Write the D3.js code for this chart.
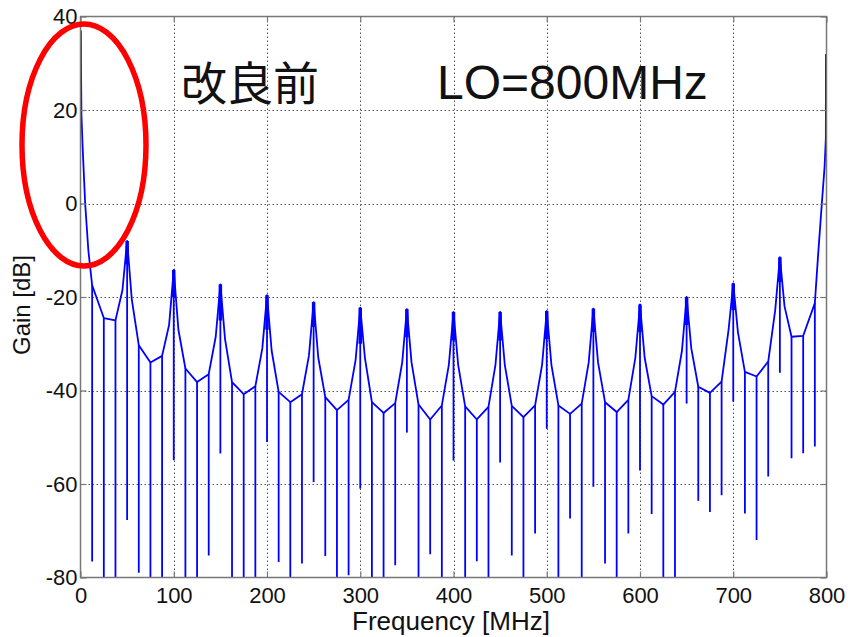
<!DOCTYPE html>
<html>
<head>
<meta charset="utf-8">
<script src="https://cdn.jsdelivr.net/npm/d3@7"></script>
<style>
  body { margin: 0; background: #fff; }
  svg text { font-family: "Liberation Sans", Arial, sans-serif; fill: #111; }
</style>
</head>
<body>
<svg id="chart" width="848" height="637"></svg>
<script>
// envelope of the gain curve (MHz, dB)
var envFreq = [0.4, 0.6, 1, 2.3, 5, 8.4, 12.5, 25, 37.5, 45, 50, 55, 62.5, 75, 87.5, 95, 100, 105,
  112.5, 125, 137.5, 145, 150, 155, 162.5, 175, 187.5, 195, 200, 205, 212.5, 225, 237.5, 245, 250, 255,
  262.5, 275, 287.5, 295, 300, 305, 312.5, 325, 337.5, 345, 350, 355, 362.5, 375, 387.5, 395, 400, 405,
  412.5, 425, 437.5, 445, 450, 455, 462.5, 475, 487.5, 495, 500, 505, 512.5, 525, 537.5, 545, 550, 555,
  562.5, 575, 587.5, 595, 600, 605, 612.5, 625, 637.5, 645, 650, 655, 662.5, 675, 687.5, 695, 700, 705,
  712.5, 725, 737.5, 745, 750, 755, 762.5, 775, 787.5, 791, 795, 798, 799.3, 799.4]
var envGain = [37, 28, 19, 12, 0, -10, -17.5, -24.5, -25, -18.5, -8, -20.5, -30.3, -34, -32.6, -26, -14.2, -27,
  -35.3, -38.2, -36.5, -28.5, -17.3, -29, -38.2, -40.8, -39.1, -31, -19.6, -31.5, -40.3, -42.5, -40.8, -32.5, -21.1, -33,
  -41.4, -44.2, -42, -33.5, -22.3, -33, -42.5, -44.8, -42.7, -34, -22.6, -34, -43, -46.2, -43.2, -34.5, -23.2, -34.5,
  -43.4, -46.2, -43.5, -34.5, -23.2, -34.5, -43.3, -45.7, -43.2, -34.5, -23, -34.5, -43.2, -45, -42.8, -34, -22.5, -34,
  -42.5, -44.6, -42, -33, -21.6, -33, -41.2, -43, -40.3, -31.5, -20, -31, -39.2, -40.5, -38.1, -27, -17.1, -27.5,
  -36, -37, -33.8, -22.8, -11.5, -22, -28.5, -28.3, -21.3, -11, 0, 8, 14, 32]

// deep notches every 12.5 MHz (MHz, lowest dB)
var spikeFreq = [12.5, 25, 37.5, 50, 62.5, 75, 87.5, 100, 112.5, 125, 137.5, 150, 162.5, 175, 187.5, 200,
  212.5, 225, 237.5, 250, 262.5, 275, 287.5, 300, 312.5, 325, 337.5, 350, 362.5, 375, 387.5, 400,
  412.5, 425, 437.5, 450, 462.5, 475, 487.5, 500, 512.5, 525, 537.5, 550, 562.5, 575, 587.5, 600,
  612.5, 625, 637.5, 650, 662.5, 675, 687.5, 700, 712.5, 725, 737.5, 750, 762.5, 775, 787.5]
var spikeLow = [-76.6, -80, -80, -67.7, -79, -80, -80, -54.9, -80, -80, -75.3, -53.5, -80, -80, -79.9, -51,
  -76.7, -80, -77, -59.6, -75.4, -80, -79.5, -61, -80, -80, -77.4, -49, -80, -75, -80, -55,
  -80, -76.5, -80, -55.4, -75.3, -80, -70.6, -48.2, -80, -67.4, -80, -60.6, -77, -80, -70.6, -57.1,
  -66.4, -80, -80, -42.8, -63.6, -66, -62.4, -42.4, -66.3, -72, -58.4, -36.2, -54.5, -53.4, -52]

// dense part right under each harmonic peak
var peakFreq = [50, 100, 150, 200, 250, 300, 350, 400, 450, 500, 550, 600, 650, 700, 750]
var peakBand = [-13, -20, -25, -27, -26.4, -30, -28.6, -29.3, -29.3, -29, -27.5, -27.5, -26, -22.8, -16.8]

var xTicks = [0, 100, 200, 300, 400, 500, 600, 700, 800]
var yTicks = [-80, -60, -40, -20, 0, 20, 40]

var svg = d3.select("#chart")
var box = {left: 80.5, right: 826.5, top: 16.5, bottom: 577.5}

var x = d3.scaleLinear().domain([0, 800]).range([box.left, box.right])
var y = d3.scaleLinear().domain([-80, 40]).range([box.bottom, box.top])

// grid
var grid = svg.append("g").attr("stroke", "#555").attr("stroke-width", 1).attr("stroke-dasharray", "1.5,2.5")
grid.selectAll(".gx").data(xTicks.slice(1, -1)).enter().append("line")
  .attr("x1", d => Math.round(x(d)) + 0.5).attr("x2", d => Math.round(x(d)) + 0.5)
  .attr("y1", box.top).attr("y2", box.bottom)
grid.selectAll(".gy").data(yTicks.slice(1, -1)).enter().append("line")
  .attr("y1", d => Math.round(y(d)) + 0.5).attr("y2", d => Math.round(y(d)) + 0.5)
  .attr("x1", box.left).attr("x2", box.right)

svg.append("clipPath").attr("id", "clip").append("rect")
  .attr("x", box.left).attr("y", box.top).attr("width", box.right - box.left).attr("height", box.bottom - box.top)

var plot = svg.append("g").attr("clip-path", "url(#clip)")
var blue = "#0000ff", lw = 1.8

var env = d3.zip(envFreq, envGain)
plot.append("path").datum(env)
  .attr("fill", "none").attr("stroke", blue).attr("stroke-width", lw)
  .attr("stroke-linejoin", "round")
  .attr("d", d3.line().x(d => x(d[0])).y(d => y(d[1])))

function envAt(f) {
  var i = envFreq.indexOf(f)
  return envGain[i]
}

plot.selectAll(".spike").data(d3.zip(spikeFreq, spikeLow)).enter().append("line")
  .attr("x1", d => x(d[0])).attr("x2", d => x(d[0]))
  .attr("y1", d => y(envAt(d[0]))).attr("y2", d => y(d[1]))
  .attr("stroke", blue).attr("stroke-width", lw)

plot.selectAll(".band").data(d3.zip(peakFreq, peakBand)).enter().append("line")
  .attr("x1", d => x(d[0])).attr("x2", d => x(d[0]))
  .attr("y1", d => y(envAt(d[0]))).attr("y2", d => y(d[1]))
  .attr("stroke", blue).attr("stroke-width", 3.5)

// axes box with inward ticks
var axisColor = "#777"
svg.append("rect").attr("x", box.left).attr("y", box.top)
  .attr("width", box.right - box.left).attr("height", box.bottom - box.top)
  .attr("fill", "none").attr("stroke", axisColor).attr("stroke-width", 1.5)

var fmt = d => String(d)
var axB = svg.append("g").attr("transform", "translate(0," + box.bottom + ")")
  .call(d3.axisBottom(x).tickValues(xTicks).tickSize(-6).tickFormat(fmt))
var axT = svg.append("g").attr("transform", "translate(0," + box.top + ")")
  .call(d3.axisTop(x).tickValues(xTicks).tickSize(-6).tickFormat(""))
var axL = svg.append("g").attr("transform", "translate(" + box.left + ",0)")
  .call(d3.axisLeft(y).tickValues(yTicks).tickSize(-6).tickPadding(3).tickFormat(fmt))
var axR = svg.append("g").attr("transform", "translate(" + box.right + ",0)")
  .call(d3.axisRight(y).tickValues(yTicks).tickSize(-6).tickFormat(""))

;[axB, axT, axL, axR].forEach(function (a) {
  a.select(".domain").remove()
  a.selectAll(".tick line").attr("stroke", axisColor).attr("stroke-width", 1.2)
  a.selectAll(".tick text").attr("fill", "#111")
    .style("font-size", "22px").style("font-family", "'Liberation Sans', Arial, sans-serif")
})
axB.selectAll(".tick text").attr("y", 25).attr("dy", 0)

svg.append("text").attr("x", 451).attr("y", 630).attr("text-anchor", "middle")
  .style("font-size", "26px").text("Frequency [MHz]")

svg.append("text").attr("transform", "translate(30,305) rotate(-90)").attr("text-anchor", "middle")
  .style("font-size", "24px").text("Gain [dB]")

svg.append("text").attr("x", 181).attr("y", 100)
  .style("font-size", "46px").style("font-family", "'Noto Sans CJK JP', 'Noto Sans CJK SC', sans-serif")
  .text("改良前")

svg.append("text").attr("x", 437).attr("y", 99)
  .style("font-size", "48px").text("LO=800MHz")

svg.append("ellipse").attr("cx", 84).attr("cy", 145).attr("rx", 62).attr("ry", 121)
  .attr("fill", "none").attr("stroke", "#ff0000").attr("stroke-width", 5.5)
</script>
</body>
</html>
